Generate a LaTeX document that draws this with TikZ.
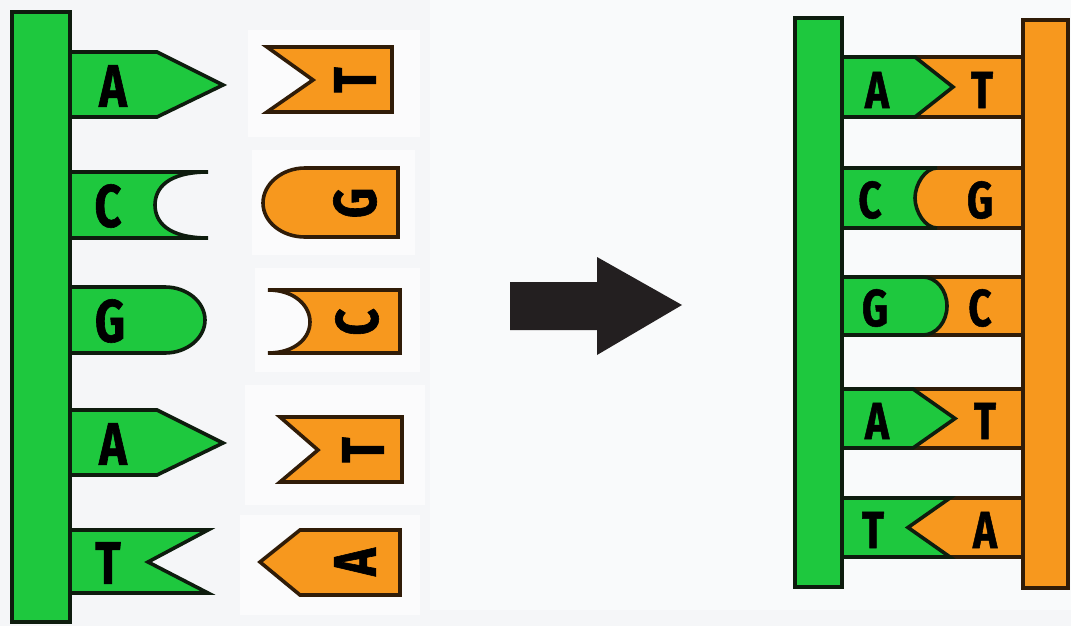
\documentclass[tikz,border=0pt]{standalone}
\usepackage{fontspec}
\newfontfamily\basefont[FakeStretch=0.78,FakeBold=1]{Fira Sans}

\definecolor{strandgreen}{RGB}{30,200,62}
\definecolor{strandorange}{RGB}{247,152,30}
\definecolor{greenline}{RGB}{14,28,14}
\definecolor{orangeline}{RGB}{48,28,8}
\definecolor{paper}{RGB}{245,246,248}
\definecolor{arrowblack}{RGB}{35,31,32}

\tikzset{
  greenpart/.style={fill=strandgreen, draw=greenline, line width=1.8pt, line join=miter},
  orangepart/.style={fill=strandorange, draw=orangeline, line width=1.8pt, line join=miter},
  base/.style={font=\basefont\bfseries\fontsize{30}{30}\selectfont, text=black, inner sep=0pt},
  pairbase/.style={base, font=\basefont\bfseries\fontsize{26}{26}\selectfont},
  flipbase/.style={base, rotate=90}
}

\begin{document}
\begin{tikzpicture}[x=0.5pt,y=-0.5pt]
  \useasboundingbox (0,0) rectangle (1071,626);
  \fill[paper] (0,0) rectangle (1071,626);
  \fill[white!40!paper] (430,0) rectangle (1071,610);
  \fill[white!60!paper] (248,30) rectangle (420,137);
  \fill[white!60!paper] (252,150) rectangle (415,255);
  \fill[white!60!paper] (255,268) rectangle (420,372);
  \fill[white!60!paper] (245,385) rectangle (425,505);
  \fill[white!60!paper] (240,515) rectangle (420,615);

  % single strand with loose bases
  \draw[greenpart] (70,52) -- (157,52) -- (223,85) -- (157,117) -- (70,117) -- cycle;
  \draw[greenpart] (70,172) -- (208,172) .. controls (168,172) and (155,188) .. (155,205)
    .. controls (155,222) and (168,238) .. (208,238) -- (70,238) -- cycle;
  \draw[greenpart] (70,287) -- (165,287) .. controls (187,287) and (205,302) .. (205,320)
    .. controls (205,338) and (187,353) .. (165,353) -- (70,353) -- cycle;
  \draw[greenpart] (70,410) -- (157,410) -- (223,443) -- (157,475) -- (70,475) -- cycle;
  \draw[greenpart] (70,530) -- (208,530) -- (148,562) -- (208,593) -- (70,593) -- cycle;
  \draw[greenpart] (12,12) rectangle (70,622);

  \node[base] (gA1) at (113,86) {A};
  \node[base] (gC1) at (108,206) {C};
  \node[base] (gG1) at (110,321) {G};
  \node[base] (gA2) at (113,444) {A};
  \node[base] (gT1) at (108,563) {T};

  % free partner bases
  \draw[orangepart] (267,47) -- (392,47) -- (392,112) -- (267,112) -- (313,80) -- cycle;
  \draw[orangepart] (398,168) -- (305,168) .. controls (282,168) and (263,184) .. (263,203)
    .. controls (263,222) and (282,237) .. (305,237) -- (398,237) -- cycle;
  \draw[orangepart] (268,290) -- (400,290) -- (400,353) -- (268,353)
    .. controls (295,353) and (310,338) .. (310,322) .. controls (310,306) and (295,290) .. (268,290) -- cycle;
  \draw[orangepart] (280,417) -- (402,417) -- (402,482) -- (280,482) -- (318,450) -- cycle;
  \draw[orangepart] (300,530) -- (400,530) -- (400,595) -- (300,595) -- (260,562) -- cycle;

  \node[flipbase] (oT1) at (355,80) {T};
  \node[flipbase] (oG1) at (355,203) {G};
  \node[flipbase] (oC1) at (357,322) {C};
  \node[flipbase] (oT2) at (363,450) {T};
  \node[flipbase] (oA1) at (355,562) {A};

  % block arrow
  \fill[arrowblack] (510,282) -- (597,282) -- (597,257) -- (682,305) -- (597,355)
    -- (597,330) -- (510,330) -- cycle;

  % paired double strand
  \draw[orangepart] (842,57) rectangle (1023,117);
  \draw[greenpart] (842,57) -- (915,57) -- (953,87) -- (915,117) -- (842,117) -- cycle;
  \draw[orangepart] (842,168) rectangle (1023,228);
  \draw[greenpart] (842,168) -- (937,168) .. controls (925,168) and (915,184.6) .. (915,198)
    .. controls (915,211.4) and (925,228) .. (937,228) -- (842,228) -- cycle;
  \draw[orangepart] (842,277) rectangle (1023,335);
  \draw[greenpart] (842,277) -- (923,277) .. controls (936,277) and (947,290) .. (947,306)
    .. controls (947,322) and (936,335) .. (923,335) -- (842,335) -- cycle;
  \draw[orangepart] (842,389) rectangle (1023,448);
  \draw[greenpart] (842,389) -- (913,389) -- (955,418.5) -- (913,448) -- (842,448) -- cycle;
  \draw[orangepart] (842,498) rectangle (1023,557);
  \draw[greenpart] (842,498) -- (950,498) -- (908,527.5) -- (950,557) -- (842,557) -- cycle;
  \draw[greenpart] (795,18) rectangle (842,587);
  \draw[orangepart] (1023,20) rectangle (1068,588);

  \node[pairbase] (pA1) at (877,90) {A};
  \node[pairbase] (pT1) at (982,90) {T};
  \node[pairbase] (pC1) at (870,200) {C};
  \node[pairbase] (pG1) at (980,200) {G};
  \node[pairbase] (pG2) at (875,308) {G};
  \node[pairbase] (pC2) at (980,308) {C};
  \node[pairbase] (pA2) at (877,421) {A};
  \node[pairbase] (pT2) at (985,421) {T};
  \node[pairbase] (pT3) at (873,530) {T};
  \node[pairbase] (pA3) at (985,530) {A};
\end{tikzpicture}
\end{document}
